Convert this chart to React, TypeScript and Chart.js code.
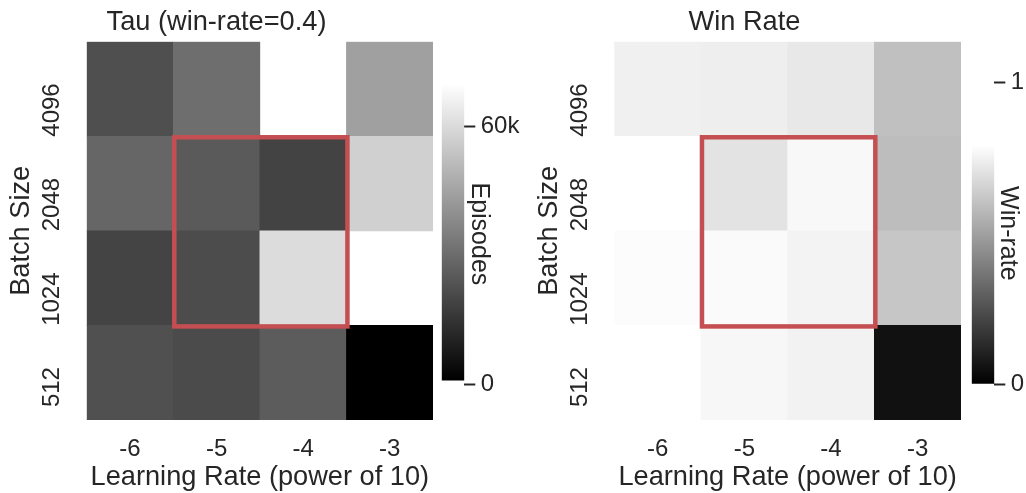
import React, { useEffect, useRef } from 'react';
import { Chart, registerables } from 'chart.js';

Chart.register(...registerables);

// ---------------- data ----------------
const learningRates = ['-6', '-5', '-4', '-3'];
const batchSizes = ['512', '1024', '2048', '4096']; // bottom to top

// Tau: episodes needed to reach win-rate 0.4 (null = never reached)
const tau512 = [22600, 21200, 25800, 0];
const tau1024 = [19300, 21500, 60500, null];
const tau2048 = [28500, 25300, 19100, 57300];
const tau4096 = [22300, 30700, null, 44300];

// Final win rate
const win512 = [0.8, 0.768, 0.753, 0.053];
const win1024 = [0.784, 0.777, 0.756, 0.616];
const win2048 = [0.8, 0.706, 0.771, 0.588];
const win4096 = [0.746, 0.74, 0.721, 0.597];

const tauColorRange = [900, 70000];
const winColorRange = [0, 0.793];
const tauAxisRange = [0, 70000];
const winAxisRange = [0, 1];
const tauTicks = [0, 60000];
const tauTickLabels = ['0', '60k'];
const winTicks = [0, 1];
const winTickLabels = ['0', '1'];

const highlightLR = ['-5', '-4'];
const highlightBatch = ['1024', '2048'];

// ---------------- styles ----------------
const FONT = "'Liberation Sans', Arial, Helvetica, sans-serif";
const TEXT = '#262626';
const H = 493;
const LABEL_SIZE = 27.2;
const TICK_SIZE = 24;

Chart.defaults.font.family = FONT;
Chart.defaults.color = TEXT;

function grayFor(v: number | null, range: number[]): string {
  if (v === null) return 'rgba(0,0,0,0)';
  let t = (v - range[0]) / (range[1] - range[0]);
  t = Math.max(0, Math.min(1, t));
  const g = Math.round(t * 255);
  return `rgb(${g},${g},${g})`;
}

const highlightPlugin = {
  id: 'highlightBox',
  afterDatasetsDraw(chart: any) {
    const xs = chart.scales.x;
    const ys = chart.scales.y;
    const c0 = learningRates.indexOf(highlightLR[0]);
    const c1 = learningRates.indexOf(highlightLR[highlightLR.length - 1]);
    const r0 = batchSizes.indexOf(highlightBatch[0]);
    const r1 = batchSizes.indexOf(highlightBatch[highlightBatch.length - 1]);
    const left = xs.getPixelForValue(c0 - 0.5);
    const right = xs.getPixelForValue(c1 + 0.5);
    const top = ys.getPixelForValue(r1 + 1);
    const bottom = ys.getPixelForValue(r0);
    const ctx = chart.ctx;
    ctx.save();
    ctx.strokeStyle = '#c44e52';
    ctx.lineWidth = 4.5;
    ctx.strokeRect(left + 1, top + 1, right - left, bottom - top);
    ctx.restore();
  },
};

function heatmapConfig(title: string, rows: (number | null)[][], range: number[], yAxisWidth: number): any {
  return {
    type: 'bar',
    data: {
      labels: learningRates,
      datasets: rows.map((vals, r) => ({
        label: batchSizes[r],
        data: vals.map((v) => (v === null ? null : [r, r + 1])),
        backgroundColor: vals.map((v) => grayFor(v, range)),
        borderWidth: 0,
        barPercentage: 1,
        categoryPercentage: 1,
        grouped: false,
      })),
    },
    plugins: [highlightPlugin],
    options: {
      responsive: false,
      maintainAspectRatio: false,
      animation: false,
      devicePixelRatio: 1,
      events: [],
      layout: { padding: { left: 0, right: 0, top: 0, bottom: 0 } },
      plugins: {
        legend: { display: false },
        tooltip: { enabled: false },
        title: {
          display: true,
          text: title,
          color: TEXT,
          font: { size: LABEL_SIZE, weight: 'normal', lineHeight: 1.2 },
          padding: { top: 5.7, bottom: 3.36 },
        },
      },
      scales: {
        x: {
          type: 'category',
          offset: true,
          grid: { display: false, drawTicks: false },
          border: { display: false },
          ticks: { font: { size: TICK_SIZE }, color: TEXT, padding: 15.1, maxRotation: 0, minRotation: 0 },
          title: {
            display: true,
            text: 'Learning Rate (power of 10)',
            color: TEXT,
            font: { size: LABEL_SIZE, lineHeight: 1 },
            padding: { top: 0, bottom: 1.9 },
          },
          afterFit: (s: any) => {
            s.height = 73;
          },
        },
        y: {
          type: 'linear',
          min: 0,
          max: batchSizes.length,
          grid: { display: false, drawTicks: false },
          border: { display: false },
          afterBuildTicks: (s: any) => {
            s.ticks = batchSizes.map((_, i) => ({ value: i + 0.56 }));
          },
          ticks: {
            autoSkip: false,
            minRotation: 90,
            maxRotation: 90,
            font: { size: TICK_SIZE, lineHeight: 0.4 },
            color: TEXT,
            padding: 33.9,
            callback: (_v: any, i: number) => batchSizes[i],
          },
          title: {
            display: true,
            text: 'Batch Size',
            color: TEXT,
            font: { size: LABEL_SIZE, lineHeight: 1 },
            padding: { top: 8.1, bottom: 0 },
          },
          afterFit: (s: any) => {
            s.width = yAxisWidth;
          },
        },
      },
    },
  };
}

function colorbarConfig(
  label: string,
  colorRange: number[],
  axisRange: number[],
  ticks: number[],
  tickLabels: string[],
  chartTop: number,
  axisWidth: number,
  titlePad: number
): any {
  return {
    type: 'bar',
    data: {
      labels: [''],
      datasets: [
        {
          data: [[colorRange[0], colorRange[1]]],
          backgroundColor: (c: any) => {
            const chart = c.chart;
            if (!chart.chartArea) return '#000';
            const ys = chart.scales.y;
            const g = chart.ctx.createLinearGradient(
              0,
              ys.getPixelForValue(colorRange[0]),
              0,
              ys.getPixelForValue(colorRange[1])
            );
            g.addColorStop(0, '#000000');
            g.addColorStop(1, '#ffffff');
            return g;
          },
          borderWidth: 0,
          barPercentage: 1,
          categoryPercentage: 1,
        },
      ],
    },
    options: {
      responsive: false,
      maintainAspectRatio: false,
      animation: false,
      devicePixelRatio: 1,
      events: [],
      layout: { padding: { left: 11.7, right: 0, top: chartTop, bottom: H - 384 } },
      plugins: { legend: { display: false }, tooltip: { enabled: false }, title: { display: false } },
      scales: {
        x: { display: false },
        y: {
          position: 'right',
          min: axisRange[0],
          max: axisRange[1],
          border: { display: false },
          grid: {
            display: true,
            drawOnChartArea: false,
            drawTicks: true,
            tickLength: 11,
            tickWidth: 2,
            tickColor: TEXT,
          },
          afterBuildTicks: (s: any) => {
            s.ticks = ticks.map((v) => ({ value: v }));
          },
          ticks: {
            autoSkip: false,
            font: { size: TICK_SIZE },
            color: TEXT,
            padding: 5.4,
            callback: (_v: any, i: number) => tickLabels[i],
          },
          title: {
            display: true,
            text: label,
            color: TEXT,
            font: { size: 25, lineHeight: 1 },
            padding: { top: titlePad, bottom: 0 },
          },
          afterFit: (s: any) => {
            s.width = axisWidth;
          },
        },
      },
    },
  };
}

function ChartCanvas({ make, left, width }: { make: () => any; left: number; width: number }) {
  const ref = useRef<HTMLCanvasElement | null>(null);
  useEffect(() => {
    const chart = new Chart(ref.current as HTMLCanvasElement, make());
    return () => chart.destroy();
  }, []);
  return (
    <canvas
      ref={ref}
      width={width}
      height={H}
      style={{ position: 'absolute', left, top: 0, width, height: H, display: 'block' }}
    />
  );
}

export default function App() {
  const tauRows = [tau512, tau1024, tau2048, tau4096];
  const winRows = [win512, win1024, win2048, win4096];
  return (
    <div style={{ position: 'fixed', left: 0, top: 0, width: 1026, height: H, background: '#fff', overflow: 'hidden' }}>
      <ChartCanvas left={0} width={433} make={() => heatmapConfig('Tau (win-rate=0.4)', tauRows, tauColorRange, 86.7)} />
      <ChartCanvas
        left={430}
        width={96}
        make={() => colorbarConfig('Episodes', tauColorRange, tauAxisRange, tauTicks, tauTickLabels, 83.8, 61.7, 34.5)}
      />
      <ChartCanvas left={528} width={433} make={() => heatmapConfig('Win Rate', winRows, winColorRange, 86.3)} />
      <ChartCanvas
        left={960}
        width={66}
        make={() => colorbarConfig('Win-rate', winColorRange, winAxisRange, winTicks, winTickLabels, 82.7, 31.7, 6)}
      />
    </div>
  );
}
